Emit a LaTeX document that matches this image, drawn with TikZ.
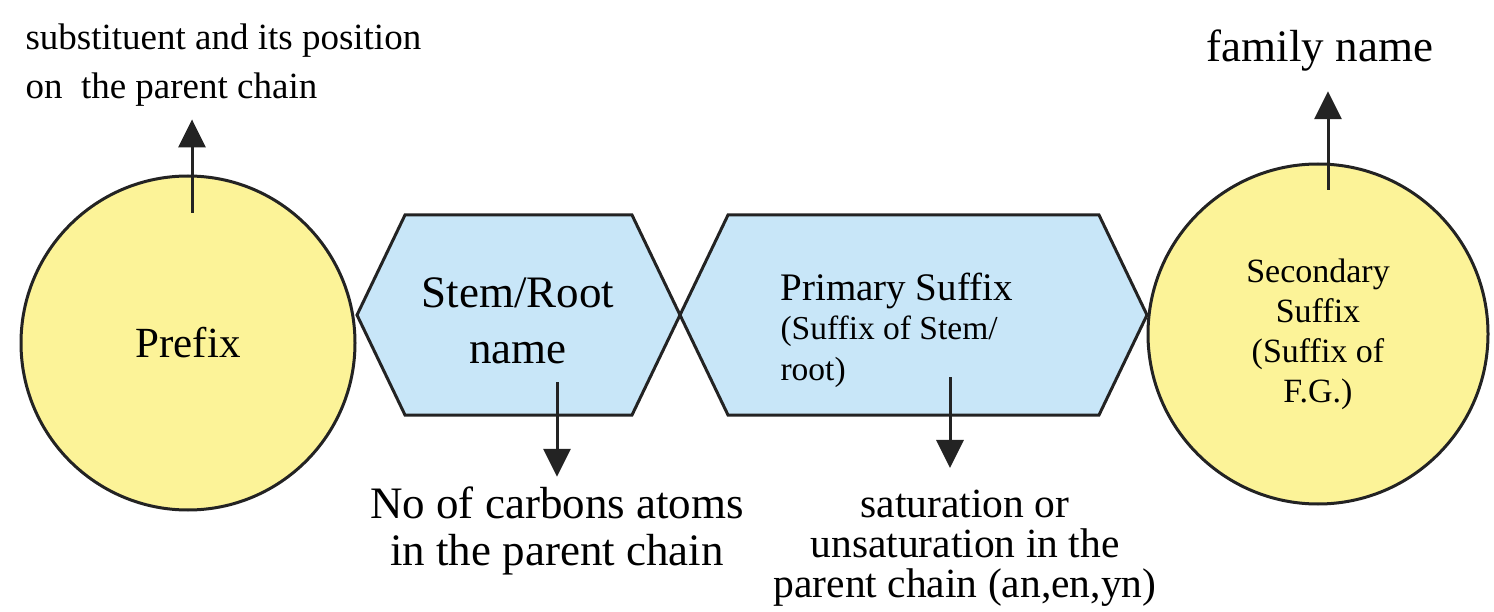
\documentclass[tikz,border=0pt]{standalone}
\usepackage{fontspec}
\setmainfont{Liberation Serif}
\usetikzlibrary{arrows.meta,calc}

\definecolor{ringyellow}{RGB}{252,243,152}
\definecolor{hexblue}{RGB}{200,230,248}
\definecolor{edgegray}{RGB}{35,35,35}

\newcommand{\fsz}[2]{\fontsize{#1}{#2}\selectfont}

\tikzset{
  part/.style={draw=edgegray, line width=3pt},
  ring/.style={part, circle, fill=ringyellow, inner sep=0pt, minimum size=#1},
  hexa/.style={part, fill=hexblue, line join=miter},
  pointer/.style={draw=edgegray, line width=3pt, -{Triangle[width=27pt,length=28pt]}},
}

\begin{document}
\begin{tikzpicture}[x=1pt, y=-1pt]
  \useasboundingbox (0,0) rectangle (1494,612);

  \def\chainy{315} % middle line of the chain
  \def\hy{100}     % half height of a hexagon
  \def\cut{48}     % slant of the hexagon ends

  % stem hexagon
  \coordinate (SL) at (357,\chainy);
  \coordinate (SR) at (680,\chainy);
  \draw[hexa] (SL) -- ++(\cut,-\hy) -- ($(SR)+(-\cut,-\hy)$) -- (SR)
      -- ($(SR)+(-\cut,\hy)$) -- ($(SL)+(\cut,\hy)$) -- cycle;

  % primary suffix hexagon
  \coordinate (PR) at (1147,\chainy);
  \draw[hexa] (SR) -- ++(\cut,-\hy) -- ($(PR)+(-\cut,-\hy)$) -- (PR)
      -- ($(PR)+(-\cut,\hy)$) -- ($(SR)+(\cut,\hy)$) -- cycle;

  % circles
  \node[ring=334pt, font=\fsz{43}{48}] (prefix) at (188,343) {Prefix};
  \node[ring=340pt, align=center, font=\fsz{34}{40}] (secsuffix) at (1318,334)
      {Secondary\\Suffix\\(Suffix of\\F.G.)};

  % text of the hexagons (base = last line)
  \node[anchor=base, align=center, font=\fsz{45}{56}] (stem) at (518,363) {Stem/Root\\name};
  \node[anchor=base west, align=left, font=\fsz{33.5}{40}] (primsuffix) at (777,380)
      {{\fsz{39}{40}Primary Suffix}\\(Suffix of Stem/\\root)};

  % labels
  \node[anchor=base west, align=left, font=\fsz{37}{49}] (subst) at (22,99)
      {substituent and its position\\on\ \ the parent chain};
  \node[anchor=base, font=\fsz{45}{50}] (family) at (1320,62) {family name};
  \node[anchor=base, align=center, font=\fsz{45}{47}] (carbons) at (557,565)
      {No of carbons atoms\\in the parent chain};
  \node[anchor=base, align=center, font=\fsz{41.5}{40}] (satur) at (965,597)
      {saturation or\\unsaturation in the\\parent chain (an,en,yn)};

  % arrows
  \coordinate (pa) at (192,213);
  \draw[pointer, shorten >=9pt] (pa) -- (pa |- subst.south);

  \coordinate (fa) at (1328,190);
  \draw[pointer, shorten >=16pt] (fa) -- (fa |- family.south);

  \coordinate (sa) at (557,382);
  \draw[pointer, shorten >=6pt] (sa) -- (sa |- carbons.north);

  \coordinate (ra) at (950,377);
  \draw[pointer, shorten >=18pt] (ra) -- (ra |- satur.north);

\end{tikzpicture}
\end{document}
